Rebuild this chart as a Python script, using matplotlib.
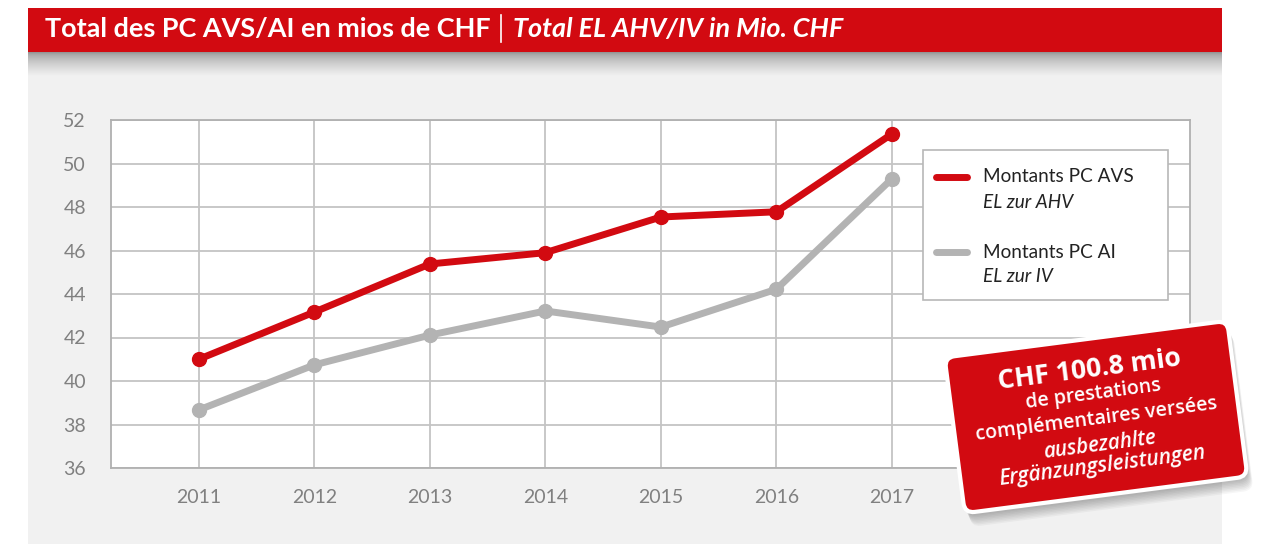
import numpy as np
import matplotlib
matplotlib.use("Agg")
import matplotlib.pyplot as plt
from matplotlib.patches import Rectangle, FancyBboxPatch
from matplotlib.transforms import Affine2D

# data
years = [2011, 2012, 2013, 2014, 2015, 2016, 2017]
pc_avs = [41.0, 43.17, 45.38, 45.9, 47.54, 47.78, 51.36]
pc_ai = [38.67, 40.74, 42.11, 43.22, 42.48, 44.22, 49.3]
y_ticks = [36, 38, 40, 42, 44, 46, 48, 50, 52]

title_fr = "Total des PC AVS/AI en mios de CHF"
title_de = "Total EL AHV/IV in Mio. CHF"
legend_fr = ["Montants PC AVS", "Montants PC AI"]
legend_de = ["EL zur AHV", "EL zur IV"]
badge_lines = ["CHF 100.8 mio", "de prestations", "complémentaires versées",
               "ausbezahlte", "Ergänzungsleistungen"]

RED = "#d20a11"
GREY_LINE = "#b3b3b3"
PANEL = "#f1f1f1"
TXT_GREY = "#808080"

W, H = 1262, 544
fig = plt.figure(figsize=(W / 100, H / 100), dpi=100)
fig.patch.set_facecolor("white")
fig.canvas.draw()
renderer = fig.canvas.get_renderer()


def fit_width(txt, width):
    # scale a text's font size so that it is `width` pixels wide
    bb = txt.get_window_extent(renderer)
    txt.set_fontsize(txt.get_fontsize() * width / bb.width)


def px_axes(zorder):
    a = fig.add_axes([0, 0, 1, 1], zorder=zorder)
    a.set_xlim(0, W)
    a.set_ylim(H, 0)
    a.axis("off")
    a.patch.set_alpha(0)
    return a


bg = px_axes(0)
# grey panel + red banner
bg.add_patch(Rectangle((28, 52), 1194, 492, color=PANEL, lw=0))
grad = np.linspace(0, 1, 60).reshape(-1, 1) ** 0.6
bg.imshow(grad, cmap=matplotlib.colors.LinearSegmentedColormap.from_list("sh", ["#8f8f8f", PANEL]),
          extent=(28, 1222, 76, 52), aspect="auto", zorder=1)
bg.add_patch(Rectangle((28, 8), 1194, 44, color=RED, lw=0, zorder=2))
t1 = bg.text(45, 29, title_fr, color="white", fontsize=20, fontweight="bold",
             family="Lato", va="center", ha="left", zorder=3)
fit_width(t1, 446)
bg.plot([501, 501], [15, 42], color="white", lw=1.2, zorder=3)
t2 = bg.text(513, 29, title_de, color="white", fontsize=20, fontweight="bold",
             fontstyle="italic", family="Lato", va="center", ha="left", zorder=3)
fit_width(t2, 330)

# main chart
x0, x1, yt, yb = 111, 1190, 120, 468
ax = fig.add_axes([x0 / W, (H - yb) / H, (x1 - x0) / W, (yb - yt) / H], zorder=1)
ax.set_facecolor("white")
ax.plot(years, pc_ai, color=GREY_LINE, lw=5, marker="o", ms=10, solid_capstyle="round", zorder=3)
ax.plot(years, pc_avs, color=RED, lw=5, marker="o", ms=10, solid_capstyle="round", zorder=4)
ax.set_xlim(2010.24, 2019.58)
ax.set_ylim(36, 52)
ax.set_yticks(y_ticks)
ax.set_xticks(years)
ax.grid(True, color="#c4c4c4", lw=1.3)
ax.set_axisbelow(True)
for s in ax.spines.values():
    s.set_color("#b0b0b0")
    s.set_linewidth(1.3)
ax.tick_params(length=0, labelsize=14, labelcolor=TXT_GREY, pad=15)
ax.tick_params(axis="y", pad=18)
for lab in ax.get_xticklabels() + ax.get_yticklabels():
    lab.set_family("Lato")

# overlay: legend + badge
ov = px_axes(2)
ov.add_patch(Rectangle((923, 150), 245, 150, facecolor="white", edgecolor="#b8b8b8", lw=1.2))
for i, (c, fr, de) in enumerate(zip([RED, GREY_LINE], legend_fr, legend_de)):
    yy = 177 + i * 75
    ov.plot([936, 967], [yy, yy], color=c, lw=5, solid_capstyle="round")
    tf = ov.text(983, yy, fr, fontsize=13.5, family="Lato", color="#222222", va="center")
    td = ov.text(983, yy + 25, de, fontsize=13.5, family="Lato", fontstyle="italic",
                 color="#222222", va="center")
    if i == 0:
        fit_width(tf, 151)
        leg_fs = tf.get_fontsize()
    tf.set_fontsize(leg_fs)
    td.set_fontsize(leg_fs)

cx, cy, bw, bh, ang = 1096, 417, 285, 157, 7.4
rot = Affine2D().rotate_deg_around(cx, cy, -ang) + ov.transData
for k in range(8):
    off = 4 + k * 1.5
    ov.add_patch(FancyBboxPatch((cx - bw / 2 + off * 0.3, cy - bh / 2 + off), bw, bh,
                                boxstyle="round,pad=0,rounding_size=10", facecolor="black",
                                edgecolor="none", alpha=0.035, transform=rot))
ov.add_patch(FancyBboxPatch((cx - bw / 2, cy - bh / 2), bw, bh,
                            boxstyle="round,pad=0,rounding_size=10", facecolor=RED,
                            edgecolor="white", lw=3, transform=rot))
offs = [-47, -23, 2, 28, 50]
widths = [185, 137, 245, 114, 209]
t = np.deg2rad(ang)
for i, (line, v, wd) in enumerate(zip(badge_lines, offs, widths)):
    px_ = cx + v * np.sin(t)
    py_ = cy + v * np.cos(t)
    bt = ov.text(px_, py_, line, color="white", fontsize=14, family="Open Sans",
                 fontweight="bold" if i == 0 else "semibold",
                 fontstyle="italic" if i >= 3 else "normal",
                 rotation_mode="anchor", ha="center", va="center")
    fit_width(bt, wd)
    bt.set_rotation(ang)

fig.savefig("out.png", dpi=100, facecolor=fig.get_facecolor())
